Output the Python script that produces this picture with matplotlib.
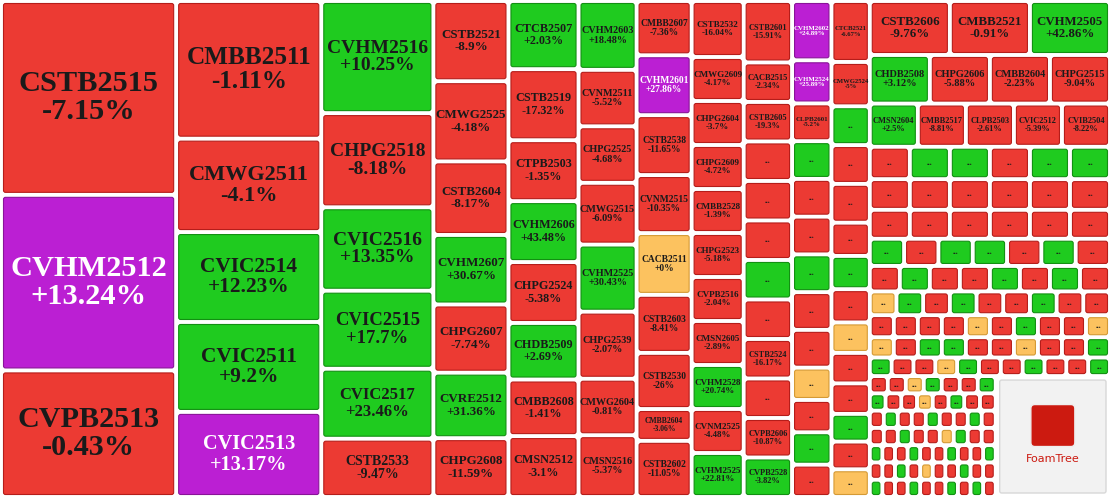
"""
FoamTree-like treemap of warrant price changes (slice-and-dice layout).
"""
import matplotlib
matplotlib.use("Agg")
import matplotlib.pyplot as plt
from matplotlib.patches import FancyBboxPatch

W, H = 1111, 498

# -- Data: columns of (label, change, kind, area weight) ---------------------
col1 = [("CSTB2515", "-7.15%", "r", 340), ("CVHM2512", "+13.24%", "p", 308),
        ("CVPB2513", "-0.43%", "r", 222)]
col2 = [("CMBB2511", "-1.11%", "r", 199), ("CMWG2511", "-4.1%", "r", 135),
        ("CVIC2514", "+12.23%", "g", 130), ("CVIC2511", "+9.2%", "g", 130),
        ("CVIC2513", "+13.17%", "p", 123)]
col3 = [("CVHM2516", "+10.25%", "g", 125), ("CHPG2518", "-8.18%", "r", 105),
        ("CVIC2516", "+13.35%", "g", 93), ("CVIC2515", "+17.7%", "g", 87),
        ("CVIC2517", "+23.46%", "g", 78), ("CSTB2533", "-9.47%", "r", 65)]
col4 = [("CSTB2521", "-8.9%", "r", 60), ("CMWG2525", "-4.18%", "r", 60),
        ("CSTB2604", "-8.17%", "r", 55), ("CVHM2607", "+30.67%", "g", 52),
        ("CHPG2607", "-7.74%", "r", 51), ("CVRE2512", "+31.36%", "g", 49),
        ("CHPG2608", "-11.59%", "r", 44)]
col5 = [("CTCB2507", "+2.03%", "g", 47), ("CSTB2519", "-17.32%", "r", 49),
        ("CTPB2503", "-1.35%", "r", 42), ("CVHM2606", "+43.48%", "g", 42),
        ("CHPG2524", "-5.38%", "r", 42), ("CHDB2509", "+2.69%", "g", 39),
        ("CMBB2608", "-1.41%", "r", 39), ("CMSN2512", "-3.1%", "r", 42)]
col6 = [("CVHM2603", "+18.48%", "g", 39), ("CVNM2511", "-5.52%", "r", 32),
        ("CHPG2525", "-4.68%", "r", 32), ("CMWG2515", "-6.09%", "r", 35),
        ("CVHM2525", "+30.43%", "g", 38), ("CHPG2539", "-2.07%", "r", 38),
        ("CMWG2604", "-0.81%", "r", 32), ("CMSN2516", "-5.37%", "r", 35)]
col7 = [("CMBB2607", "-7.36%", "r", 29), ("CVHM2601", "+27.86%", "p", 32),
        ("CSTB2538", "-11.65%", "r", 32), ("CVNM2515", "-10.35%", "r", 31),
        ("CACB2511", "+0%", "o", 33), ("CSTB2603", "-8.41%", "r", 31),
        ("CSTB2530", "-26%", "r", 30), ("CMBB2604", "-3.06%", "r", 17),
        ("CSTB2602", "-11.05%", "r", 30)]
col8 = [("CSTB2532", "-16.04%", "r", 28), ("CMWG2609", "-4.17%", "r", 22),
        ("CHPG2604", "-3.7%", "r", 22), ("CHPG2609", "-4.72%", "r", 22),
        ("CMBB2528", "-1.39%", "r", 22), ("CHPG2523", "-5.18%", "r", 22),
        ("CVPB2516", "-2.04%", "r", 22), ("CMSN2605", "-2.89%", "r", 22),
        ("CVHM2528", "+20.74%", "g", 22), ("CVNM2525", "-4.48%", "r", 22),
        ("CVHM2525", "+22.81%", "g", 22)]
col9 = [("CSTB2601", "-15.91%", "r", 28), ("CACB2515", "-2.34%", "r", 18),
        ("CSTB2605", "-19.3%", "r", 18), ("", "", "r", 18), ("", "", "r", 18),
        ("", "", "r", 18), ("", "", "g", 18), ("", "", "r", 18),
        ("CSTB2524", "-16.17%", "r", 18), ("", "", "r", 18),
        ("CVPB2606", "-10.87%", "r", 18), ("CVPB2528", "-3.82%", "g", 18)]
col10 = [("CVHM2602", "+24.89%", "p", 22), ("CVHM2524", "+25.89%", "p", 16),
         ("CLPB2601", "-5.2%", "r", 14), ("", "", "g", 14), ("", "", "r", 14),
         ("", "", "r", 14), ("", "", "g", 14), ("", "", "r", 14),
         ("", "", "r", 14), ("", "", "o", 12), ("", "", "r", 12),
         ("", "", "g", 12), ("", "", "r", 12)]
col11 = [("CTCB2521", "-6.67%", "r", 22), ("CMWG2524", "-5%", "r", 16),
         ("", "", "g", 14), ("", "", "r", 14), ("", "", "r", 14),
         ("", "", "r", 12), ("", "", "g", 12), ("", "", "r", 12),
         ("", "", "o", 11), ("", "", "r", 11), ("", "", "r", 11),
         ("", "", "g", 10), ("", "", "r", 10), ("", "", "o", 10)]
row_top = [("CSTB2606", "-9.76%", "r"), ("CMBB2521", "-0.91%", "r"),
           ("CVHM2505", "+42.86%", "g")]
row_2 = [("CHDB2508", "+3.12%", "g"), ("CHPG2606", "-5.88%", "r"),
         ("CMBB2604", "-2.23%", "r"), ("CHPG2515", "-9.04%", "r")]
row_3 = [("CMSN2604", "+2.5%", "g"), ("CMBB2517", "-8.81%", "r"),
         ("CLPB2503", "-2.61%", "r"), ("CVIC2512", "-5.39%", "r"),
         ("CVIB2504", "-8.22%", "r")]
small_rows = ["rggrgg", "rrrrrr", "rrrrrr", "grggrgr", "rgrrgrgr",
              "ogrgrrgrr", "rrrrorgrro", "orggrrorrg", "grrogrrgrrg"]
small_area = ["rrogrrg", "grrorgrr", "rgrrgrrgr", "rrgrrogrr", "grrgrrgrrg",
              "rrgrorrgrr", "grrgrrgrgr"]

COLORS = {"r": ("#ec3a33", "#b51d1a"), "g": ("#1fcb1f", "#129012"),
          "p": ("#bb1fd3", "#8a1399"), "o": ("#fcc25f", "#d59a35")}


# -- Build tree --------------------------------------------------------------
def leaves(col):
    return [{"leaf": c} for c in col]


def row_of(cells, w):
    return {"split": "h", "w": w, "kids": [{"leaf": (a, b, k, 1)} for a, b, k in cells]}


def dots(s, w):
    return {"split": "h", "w": w, "kids": [{"leaf": ("", "", k, 1)} for k in s]}


cols = [col1, col2, col3, col4, col5, col6, col7, col8]
right_a = {"split": "h", "kids": [{"split": "v", "kids": leaves(c)}
                                  for c in (col9, col10, col11)]}
right_a["w"] = 126
rows_b = [row_of(row_top, 50), row_of(row_2, 45), row_of(row_3, 40)]
rows_b += [dots(s, 30 - i * 1.6) for i, s in enumerate(small_rows)]
bottom = {"split": "h", "w": 112, "kids": [
    {"split": "v", "w": 130, "kids": [dots(s, 1) for s in small_area]},
    {"logo": True, "w": 118}]}
right_b = {"split": "v", "w": 240, "kids": rows_b + [bottom]}
root = {"split": "h", "kids": [
    {"split": "v", "w": 175, "kids": leaves(cols[0])},
    {"split": "v", "w": 145, "kids": leaves(cols[1])},
    {"split": "v", "w": 112, "kids": leaves(cols[2])},
    {"split": "v", "w": 75, "kids": leaves(cols[3])},
    {"split": "v", "w": 70, "kids": leaves(cols[4])},
    {"split": "v", "w": 58, "kids": leaves(cols[5])},
    {"split": "v", "w": 55, "kids": leaves(cols[6])},
    {"split": "v", "w": 52, "kids": leaves(cols[7])},
    {"split": "h", "w": 366, "kids": [right_a, right_b]}]}


def weight(n):
    if "w" in n:
        return n["w"]
    if "leaf" in n:
        return n["leaf"][3]
    return sum(weight(k) for k in n["kids"])


fig = plt.figure(figsize=(W / 100, H / 100), dpi=100)
ax = fig.add_axes([0, 0, 1, 1])
ax.set_xlim(0, W)
ax.set_ylim(H, 0)
ax.axis("off")
GAP = 2.5


def draw_leaf(label, val, kind, x, y, w, h):
    face, edge = COLORS[kind]
    pad = GAP
    ax.add_patch(FancyBboxPatch((x + pad, y + pad), max(w - 2 * pad, 1), max(h - 2 * pad, 1),
                                boxstyle="round,pad=0,rounding_size=2",
                                fc=face, ec=edge, lw=0.8))
    tc = "white" if kind == "p" else "#1a1a1a"
    cx, cy = x + w / 2, y + h / 2
    if label:
        fs = min(w / (len(label) * 0.72), h / 4.2) * 0.72
        ax.text(cx, cy, f"{label}\n{val}", ha="center", va="center", fontsize=fs,
                family="Liberation Serif", fontweight="bold", color=tc, linespacing=1.05)
    elif w > 14 and h > 10:
        ax.text(cx, cy, "...", ha="center", va="center", fontsize=5.5,
                family="Liberation Serif", fontweight="bold", color=tc)


def layout(n, x, y, w, h):
    if "leaf" in n:
        a, b, k, _ = n["leaf"]
        draw_leaf(a, b, k, x, y, w, h)
        return
    if n.get("logo"):
        ax.add_patch(FancyBboxPatch((x + 4, y + 4), w - 8, h - 8,
                                    boxstyle="round,pad=0,rounding_size=2",
                                    fc="#f2f2f2", ec="#d8d8d8", lw=1))
        ax.add_patch(FancyBboxPatch((x + w / 2 - 22, y + h / 2 - 32), 44, 42,
                                    boxstyle="round,pad=0,rounding_size=4",
                                    fc="#cc1a10", ec="#eeeeee", lw=1))
        ax.text(x + w / 2, y + h / 2 + 22, "FoamTree", ha="center", va="center",
                fontsize=8, color="#cc1a10")
        return
    tot = sum(weight(k) for k in n["kids"])
    pos = 0.0
    for k in n["kids"]:
        f = weight(k) / tot
        if n["split"] == "h":
            layout(k, x + pos * w, y, f * w, h)
        else:
            layout(k, x, y + pos * h, w, f * h)
        pos += f


layout(root, 1, 1, W - 2, H - 2)
fig.savefig("out.png", dpi=100, facecolor="white")
